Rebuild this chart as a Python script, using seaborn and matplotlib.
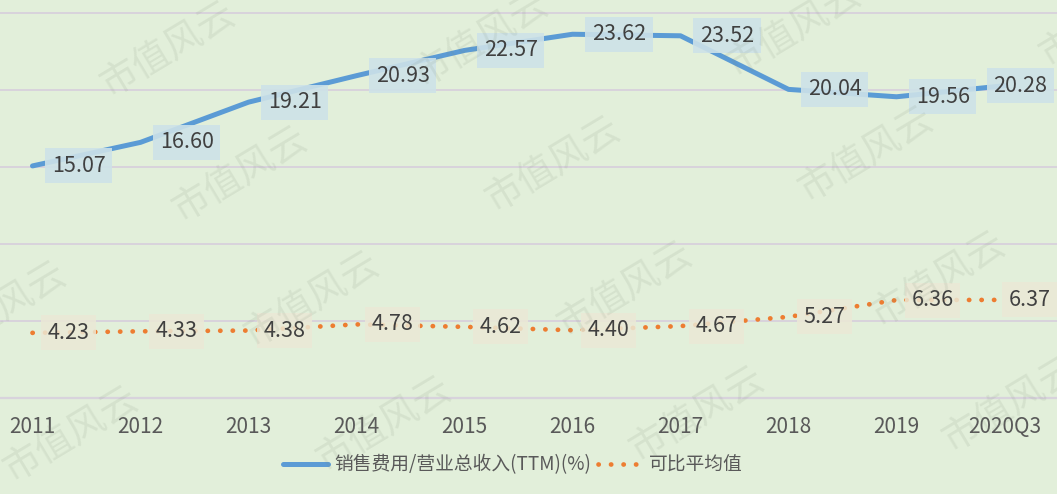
import numpy as np
import pandas as pd
import seaborn as sns
import matplotlib.pyplot as plt

# 数据
categories = ['2011', '2012', '2013', '2014', '2015', '2016', '2017', '2018', '2019', '2020Q3']
sales_ratio = [15.07, 16.60, 19.21, 20.93, 22.57, 23.62, 23.52, 20.04, 19.56, 20.28]
peer_avg = [4.23, 4.33, 4.38, 4.78, 4.62, 4.40, 4.67, 5.27, 6.36, 6.37]
series_names = ['销售费用/营业总收入(TTM)(%)', '可比平均值']

sns.set_theme(style='white')
plt.rcParams['font.family'] = ['Noto Sans CJK SC', 'DejaVu Sans']

bg = '#e2efda'
blue = '#5b9bd5'
orange = '#ed7d31'
grid_c = '#d8d3dc'

fig = plt.figure(figsize=(10.57, 4.94), dpi=100, facecolor=bg)
ax = fig.add_axes([0, 96 / 494, 1, 398 / 494])
ax.set_facecolor(bg)

x = np.arange(len(categories))
df = pd.DataFrame({'x': x, 'sales': sales_ratio, 'peer': peer_avg})

sns.lineplot(data=df, x='x', y='sales', ax=ax, color=blue, linewidth=3.6,
             label=series_names[0], solid_capstyle='round', zorder=3)
sns.lineplot(data=df, x='x', y='peer', ax=ax, color=orange, linewidth=3.4,
             label=series_names[1], linestyle=(0, (0.05, 2.6)),
             dash_capstyle='round', zorder=3)

# 数据标签 (最后一个点的标签往左挪, 不出界)
n = len(categories)
for xi, v in zip(x, sales_ratio):
    dx = 14 if xi < n - 1 else -8
    ax.annotate(f'{v:.2f}', (xi, v), xytext=(dx, 0), textcoords='offset points',
                ha='left', va='center', fontsize=15.5, color='#404040', zorder=4,
                bbox=dict(boxstyle='square,pad=0.3', fc='#cde2e8', ec='none', alpha=0.9))
for xi, v in zip(x, peer_avg):
    dx = 11 if xi < n - 1 else 3
    ax.annotate(f'{v:.2f}', (xi, v), xytext=(dx, 0), textcoords='offset points',
                ha='left', va='center', fontsize=15.5, color='#404040', zorder=4,
                bbox=dict(boxstyle='square,pad=0.3', fc='#ebe9d6', ec='none', alpha=0.85))

ax.set_xlim(-32.5 / 108, (1057 - 32.5) / 108)
ax.set_ylim(0, 25 + 13 / 15.4)
ax.set_yticks([5, 10, 15, 20, 25])
ax.yaxis.grid(True, color=grid_c, linewidth=1.4)
ax.tick_params(axis='y', left=False, labelleft=False)

ax.set_xticks(x)
ax.set_xticklabels(categories)
ax.set_xticks(x[:-1] + 0.5, minor=True)
ax.tick_params(axis='x', which='major', length=0, pad=13, labelsize=15, labelcolor='#595959')
ax.tick_params(axis='x', which='minor', length=7, width=1.2, color=grid_c, direction='out')
ax.set_xlabel('')
ax.set_ylabel('')

for s in ['left', 'right', 'top']:
    ax.spines[s].set_visible(False)
ax.spines['bottom'].set_color(grid_c)
ax.spines['bottom'].set_linewidth(1.6)

# 图例
ax.get_legend().remove()
h, l = ax.get_legend_handles_labels()
fig.legend(h, l, loc='center', bbox_to_anchor=(513 / 1057, 29 / 494), ncol=2,
           frameon=False, fontsize=13.5, labelcolor='#595959', handlelength=2.4,
           handletextpad=0.3, columnspacing=0.4)

# 水印
for i in range(-1, 4):
    for j in range(0, 4):
        cx = 168 + 313 * i + 72 * j
        cy = 50 - 10 * i + 125 * j
        if -80 < cx < 1140:
            fig.text(cx / 1057, 1 - cy / 494, '市值风云', fontsize=27, color='#7f8c78',
                     alpha=0.13, rotation=31, ha='center', va='center', zorder=10)

fig.savefig('out.png', dpi=100, facecolor=bg)
